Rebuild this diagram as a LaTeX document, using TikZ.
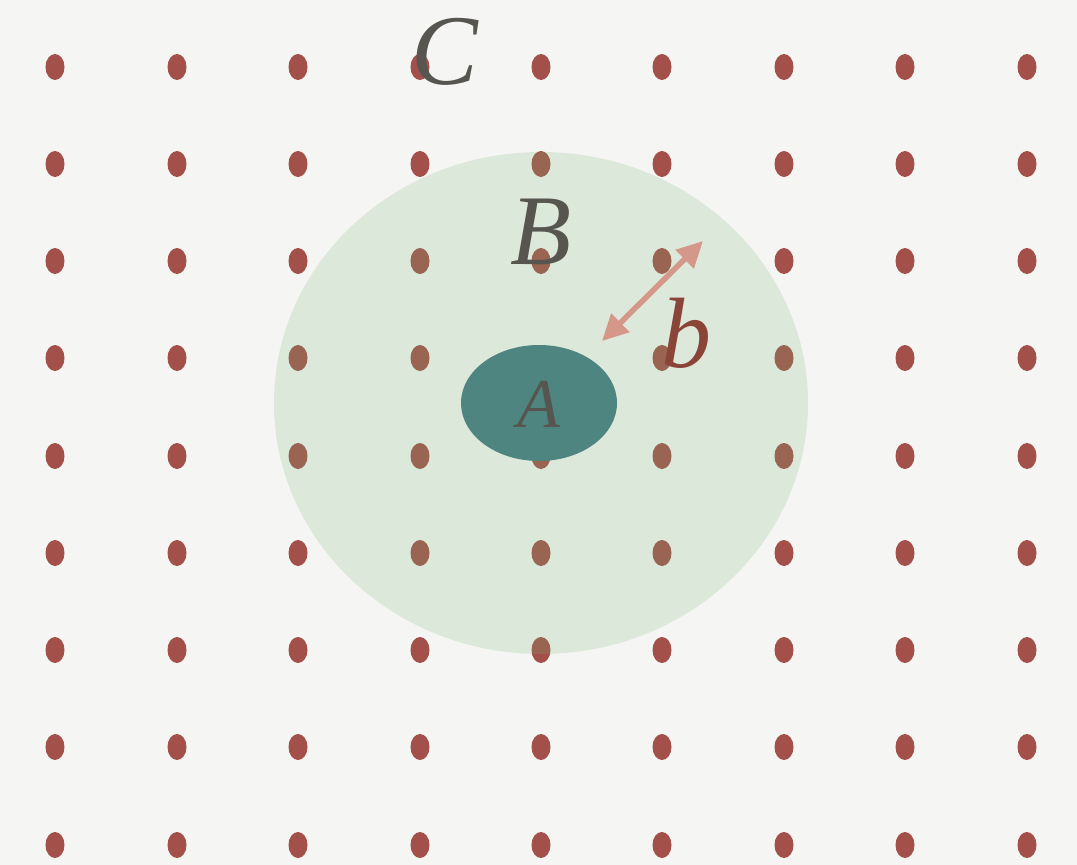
\documentclass[tikz,border=0pt]{standalone}
\usepackage{fontspec}
\setmainfont{Liberation Serif}
\usetikzlibrary{arrows.meta,shapes.geometric}
\definecolor{bg}{HTML}{F5F5F3}
\definecolor{dotred}{HTML}{A3504A}
\definecolor{halo}{RGB}{120,180,120}
\definecolor{teal}{HTML}{4F8580}
\definecolor{txtgray}{HTML}{57554F}
\definecolor{bred}{HTML}{8B4538}
\definecolor{arrowpink}{HTML}{D4978A}
\tikzset{
  griddot/.style={fill=dotred, draw=none},
  bigletter/.style={font=\fontsize{100}{100}\selectfont\itshape, inner sep=0pt, anchor=base},
  arr/.style={draw=arrowpink, line width=5.5pt, {Triangle[length=26pt,width=25pt]}-{Triangle[length=26pt,width=25pt]}}
}
\begin{document}
\begin{tikzpicture}[x=1pt,y=-1pt]
\fill[bg] (0,0) rectangle (1077,865);
\useasboundingbox (0,0) rectangle (1077,865);
\foreach \cx [count=\i] in {55,177,298,420,541,662,784,905,1027}{
  \foreach \cy [count=\j] in {67,164,261,358,456,553,650,747,845}{
    \path[griddot] (\cx,\cy) ellipse [x radius=9.5, y radius=13];
  }
}
\node[ellipse, minimum width=534pt, minimum height=502pt, fill=halo, fill opacity=0.2, draw=none, inner sep=0pt] (B) at (541,403) {};
\node[ellipse, minimum width=156pt, minimum height=116pt, fill=teal, draw=none, inner sep=0pt] (A) at (539,403) {};
\node[bigletter, text=txtgray] (Clab) at (445,84) {C};
\node[bigletter, text=txtgray] (Blab) at (541,264) {B};
\node[bigletter, text=bred] (blab) at (686,367) {b};
\node[font=\fontsize{70}{70}\selectfont\itshape, inner sep=0pt, anchor=base, text=txtgray] (Alab) at (539,427) {A};
\coordinate (p1) at (602,341);
\coordinate (p2) at (703,241);
\draw[arr] (p1) -- (p2);
\end{tikzpicture}
\end{document}
